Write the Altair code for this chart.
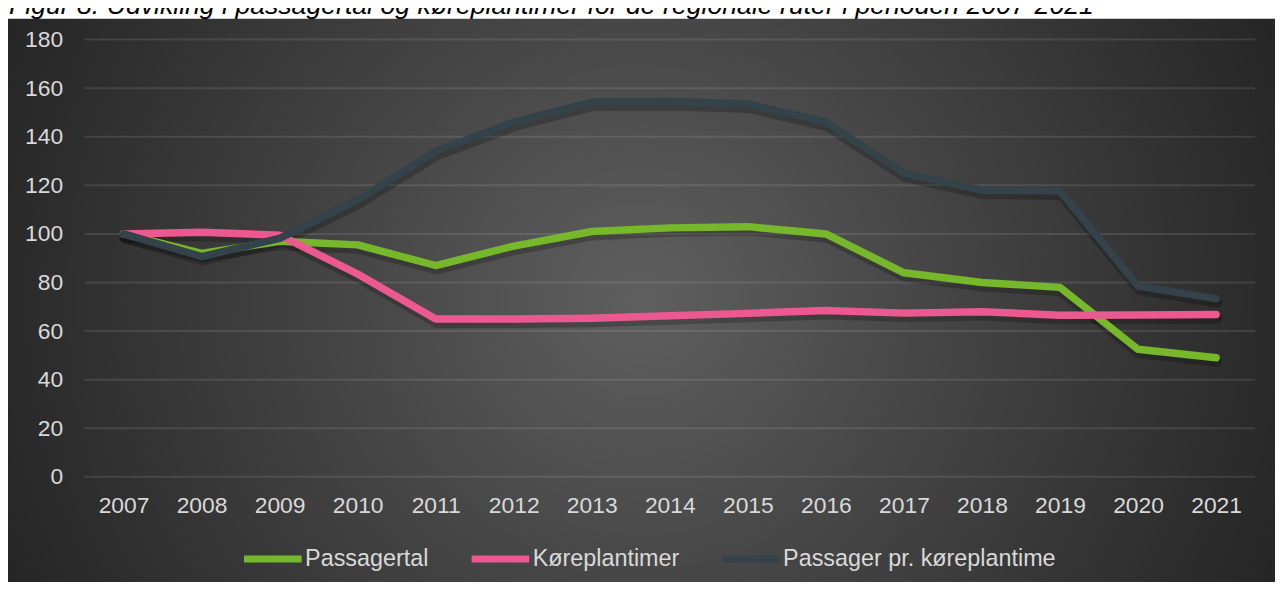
import altair as alt
import pandas as pd

# ---- data ----
years = ["2007", "2008", "2009", "2010", "2011", "2012", "2013", "2014",
         "2015", "2016", "2017", "2018", "2019", "2020", "2021"]
passagertal = [100, 92, 97, 95.5, 87, 95, 101, 102.5, 103, 100, 84, 80, 78, 52.5, 49]
koreplantimer = [100, 100.7, 99.5, 83.5, 65, 65, 65.3, 66.3, 67.3, 68.5, 67.4, 68, 66.5, 66.6, 66.8]
passager_pr = [100, 90.7, 98.2, 114, 134, 146, 154.3, 154.5, 153.5, 146, 125, 118, 117.7, 78.5, 73.4]
series_names = ["Passagertal", "Køreplantimer", "Passager pr. køreplantime"]
series_colors = ["#76B82A", "#EC5990", "#34424A"]
y_ticks = [0, 20, 40, 60, 80, 100, 120, 140, 160, 180]
title_text = "Figur 8. Udvikling i passagertal og køreplantimer for de regionale ruter i perioden 2007-2021"

rows = []
for name, vals in zip(series_names, [passagertal, koreplantimer, passager_pr]):
    for yr, v in zip(years, vals):
        rows.append({"year": yr, "series": name, "value": v})
df = pd.DataFrame(rows)

W, H = 1178, 440
FONT = "Liberation Sans"

xscale = alt.Scale(type="point", padding=0.5)
yscale = alt.Scale(domain=[0, 180], nice=False, zero=True)
cscale = alt.Scale(domain=series_names, range=series_colors)

xaxis = alt.Axis(domain=False, ticks=False, grid=False, labelAngle=0,
                 labelPadding=18, labelFontSize=23, labelFont=FONT,
                 labelColor="#d9d9d9", title=None, zindex=1)
yaxis = alt.Axis(values=y_ticks, domain=False, ticks=False, grid=False,
                 labelPadding=22, labelFontSize=23, labelFont=FONT,
                 labelColor="#d9d9d9", title=None, zindex=1)
legend = alt.Legend(
    title=None, orient="none", legendX=157, legendY=490,
    direction="horizontal", symbolType="stroke", symbolSize=3364,
    symbolStrokeWidth=7, labelFontSize=23.5, labelFont=FONT,
    labelColor="#d9d9d9", labelOffset=0, columnPadding=28,
    labelLimit=0, padding=0, zindex=1)

one = alt.Data(values=[{"a": 1}])

# background panel with radial gradient (square so gradient is circular)
bg = alt.Chart(one).mark_rect(
    fill=alt.Gradient(
        gradient="radial",
        stops=[alt.GradientStop(color="#5f5f5f", offset=0),
               alt.GradientStop(color="#464646", offset=0.4),
               alt.GradientStop(color="#292929", offset=0.9),
               alt.GradientStop(color="#242424", offset=1)],
        x1=0.5, y1=0.5, x2=0.5, y2=0.5, r1=0, r2=0.5),
    clip=False,
).encode(x=alt.value(-160), x2=alt.value(1280), y=alt.value(-458), y2=alt.value(982))

strip = alt.Chart(one).mark_rect(fill="white", clip=False).encode(
    x=alt.value(-120), x2=alt.value(1300), y=alt.value(-60), y2=alt.value(-21))

title = alt.Chart(one).mark_text(
    text=title_text, font=FONT, fontStyle="italic", fontSize=26.8,
    align="left", baseline="alphabetic", color="black", clip=False,
).encode(x=alt.value(-76), y=alt.value(-26))

grid = alt.Chart(pd.DataFrame({"v": y_ticks})).mark_rule(
    color="white", opacity=0.1, strokeWidth=2
).encode(y=alt.Y("v:Q", scale=yscale, axis=yaxis), x=alt.value(0), x2=alt.value(W))

shadow = alt.Chart(df).mark_line(
    color="black", opacity=0.22, strokeWidth=10, yOffset=4, xOffset=1,
    strokeCap="round", strokeJoin="round"
).encode(
    x=alt.X("year:O", scale=xscale, axis=xaxis),
    y=alt.Y("value:Q", scale=yscale, axis=yaxis),
    detail="series:N",
)


def line_layer(name):
    return alt.Chart(df).transform_filter(
        alt.datum.series == name
    ).mark_line(strokeWidth=7.5, strokeCap="round", strokeJoin="round").encode(
        x=alt.X("year:O", scale=xscale, axis=xaxis),
        y=alt.Y("value:Q", scale=yscale, axis=yaxis),
        color=alt.Color("series:N", scale=cscale, legend=legend),
    )


chart = alt.layer(
    bg, strip, title, grid, shadow,
    line_layer(series_names[0]),
    line_layer(series_names[1]),
    line_layer(series_names[2]),
).properties(
    width=W, height=H,
    padding={"left": 77, "top": 30, "right": 20, "bottom": 104},
    autosize=alt.AutoSizeParams(type="none"),
    background="white",
).configure_view(stroke=None)

chart.save("out.html", embed_options={"renderer": "svg", "actions": False})
